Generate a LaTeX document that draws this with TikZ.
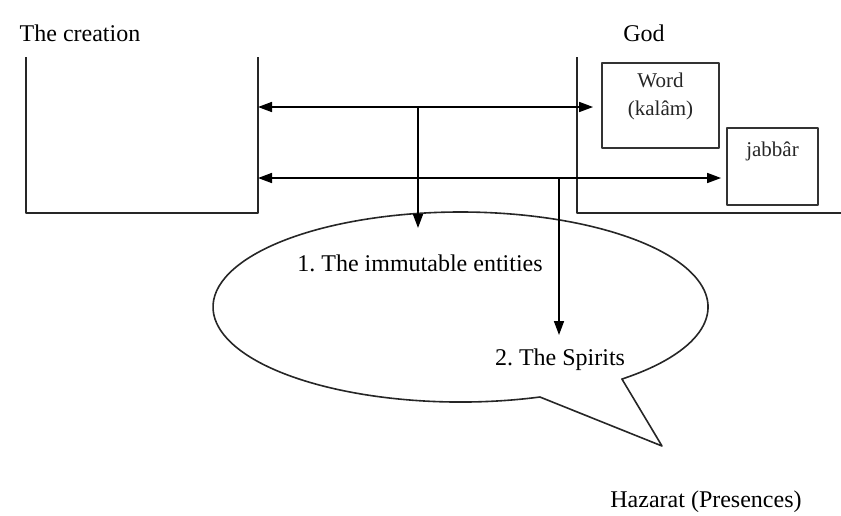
\documentclass[tikz,border=0pt]{standalone}
\usepackage{fontspec}
\setmainfont{Liberation Serif}
\usetikzlibrary{arrows.meta}
\frenchspacing

\begin{document}
\begin{tikzpicture}[x=0.5pt, y=-0.5pt, line join=round,
    wall/.style={line width=0.8pt, black!85},
    conn/.style={line width=0.8pt, -{Triangle[length=7pt,width=5pt]}},
    twoway/.style={line width=0.8pt, {Triangle[length=7pt,width=5pt]}-{Triangle[length=7pt,width=5pt]}},
    godbox/.style={draw=black!80, line width=0.9pt, inner sep=0pt},
    boxtext/.style={font=\fontsize{10.5}{14}\selectfont, align=center, inner sep=0pt, text=black!85},
    caption/.style={font=\fontsize{12}{14}\selectfont, inner sep=0pt}]

    \useasboundingbox (0,0) rectangle (841,515);

    % headings
    \node[caption] (creation) at (80,33) {The creation};
    \node[caption] (god) at (644,33) {God};
    \node[caption] (hazarat) at (706,502) {Hazarat (Presences)};

    % the creation (open box)
    \draw[wall] (26,57) -- (26,213) -- (258,213) -- (258,57);
    % God (open box)
    \draw[wall] (577,57) -- (577,213) -- (841,213);

    % names inside God
    \node[godbox, minimum width=58.5pt, minimum height=42.5pt,
        label={[boxtext, anchor=north, yshift=-5pt]north:Word\\(kalâm)}] (word) at (660.5,105.5) {};
    \node[godbox, minimum width=45.5pt, minimum height=38.5pt,
        label={[boxtext, anchor=north, yshift=-7pt]north:jabbâr}] (jabbar) at (772.5,166.5) {};

    % callout of the presences
    \coordinate (bubble) at (460.5,307);
    \coordinate (tailA) at (539.9,397.0);
    \coordinate (tailB) at (622.0,379.0);
    \coordinate (tailtip) at (662,446);
    \draw[line width=0.8pt, black!85] (tailA)
        arc[start angle=71.3, end angle=409.3, x radius=247.5, y radius=95]
        -- (tailtip) -- cycle;

    \node[caption] (entities) at (420,263) {1. The immutable entities};
    \node[caption] (spirits) at (560,360) {2. The Spirits};

    % connectors
    \coordinate (wall1) at (258,107);
    \coordinate (wall2) at (258,178);
    \coordinate (fork1) at (418,107);
    \coordinate (fork2) at (559,178);
    \coordinate (drop1) at (418,228);
    \coordinate (drop2) at (559,335);

    \draw[twoway, shorten >=4pt] (wall1) -- (wall1 -| word.west);
    \draw[twoway, shorten >=2.5pt] (wall2) -- (wall2 -| jabbar.west);
    \draw[conn] (fork1) -- (drop1);
    \draw[conn] (fork2) -- (drop2);

\end{tikzpicture}
\end{document}
